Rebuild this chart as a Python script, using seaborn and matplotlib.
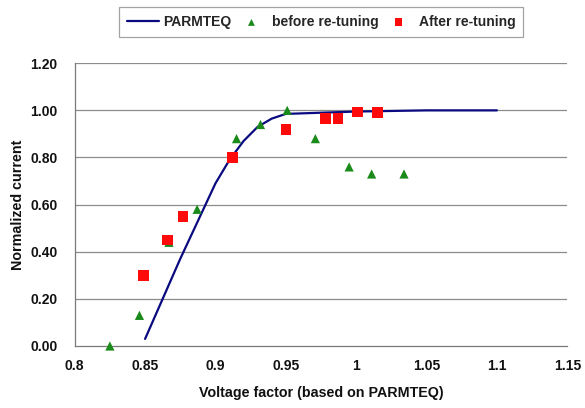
import matplotlib
matplotlib.use("Agg")
import matplotlib.pyplot as plt
import seaborn as sns

# PARMTEQ simulation curve
parmteq_x = [0.85, 0.875, 0.90, 0.91, 0.92, 0.93, 0.94, 0.95, 0.975, 1.0, 1.05, 1.1]
parmteq_y = [0.03, 0.37, 0.69, 0.79, 0.87, 0.93, 0.965, 0.985, 0.99, 0.995, 1.0, 1.0]

# measurements before re-tuning
before_x = [0.825, 0.846, 0.867, 0.887, 0.915, 0.932, 0.951, 0.971, 0.995, 1.011, 1.034]
before_y = [0.00, 0.13, 0.44, 0.58, 0.88, 0.94, 1.00, 0.88, 0.76, 0.73, 0.73]

# measurements after re-tuning
after_x = [0.849, 0.866, 0.877, 0.912, 0.950, 0.978, 0.987, 1.001, 1.015]
after_y = [0.30, 0.45, 0.55, 0.80, 0.92, 0.965, 0.965, 0.993, 0.99]

x_ticks = [0.8, 0.85, 0.9, 0.95, 1.0, 1.05, 1.1, 1.15]
x_tick_labels = ["0.8", "0.85", "0.9", "0.95", "1", "1.05", "1.1", "1.15"]
y_ticks = [0.0, 0.2, 0.4, 0.6, 0.8, 1.0, 1.2]

sns.set_style("white")
plt.rcParams['font.family'] = ['Liberation Sans', 'DejaVu Sans']

fig = plt.figure(figsize=(5.85, 4.08), dpi=100)
ax = fig.add_axes([0.1277, 0.152, 0.842, 0.693])

# horizontal grid lines
for yv in y_ticks[1:]:
    ax.axhline(yv, color='#8c8c8c', linewidth=0.9, zorder=0)

sns.lineplot(x=parmteq_x, y=parmteq_y, ax=ax, color='#0a0a80', linewidth=1.6,
             label='PARMTEQ', zorder=3, estimator=None, sort=False)
sns.scatterplot(x=before_x, y=before_y, ax=ax, marker='^', color='#1a8a1a', s=44,
                edgecolor='none', label='before re-tuning', zorder=4, clip_on=False)
sns.scatterplot(x=after_x, y=after_y, ax=ax, marker='s', color='#ff0a0a', s=58,
                edgecolor='none', label='After re-tuning', zorder=5, clip_on=False)

ax.set_xlim(0.8, 1.15)
ax.set_ylim(0.0, 1.2)
ax.set_xticks(x_ticks)
ax.set_xticklabels(x_tick_labels)
ax.set_yticks(y_ticks)
ax.set_yticklabels([f"{v:.2f}" for v in y_ticks])
ax.tick_params(axis='both', direction='out', length=3.5, width=0.8, color='#7a7a7a',
               labelsize=10, labelcolor='#111111')
ax.tick_params(axis='y', pad=9)
ax.tick_params(axis='x', pad=6)
for lbl in ax.get_xticklabels() + ax.get_yticklabels():
    lbl.set_fontweight('bold')

for side in ['top', 'right']:
    ax.spines[side].set_visible(False)
for side in ['left', 'bottom']:
    ax.spines[side].set_color('#7a7a7a')
    ax.spines[side].set_linewidth(0.9)

ax.set_xlabel('Voltage factor (based on PARMTEQ)', fontsize=10.3, fontweight='bold',
              color='#111111', labelpad=9)
ax.set_ylabel('Normalized current', fontsize=10.3, fontweight='bold',
              color='#111111', labelpad=4)

ax.legend(loc='center', bbox_to_anchor=(0.549, 0.946), bbox_transform=fig.transFigure,
          ncol=3, frameon=True, fancybox=False, edgecolor='#8c8c8c',
          prop={'size': 10, 'weight': 'bold'},
          handlelength=2.3, columnspacing=0.3, handletextpad=0.3, borderpad=0.55,
          borderaxespad=0.2, markerscale=0.75)
leg = ax.get_legend()
leg.get_frame().set_linewidth(0.9)

fig.savefig('out.png', dpi=100)
